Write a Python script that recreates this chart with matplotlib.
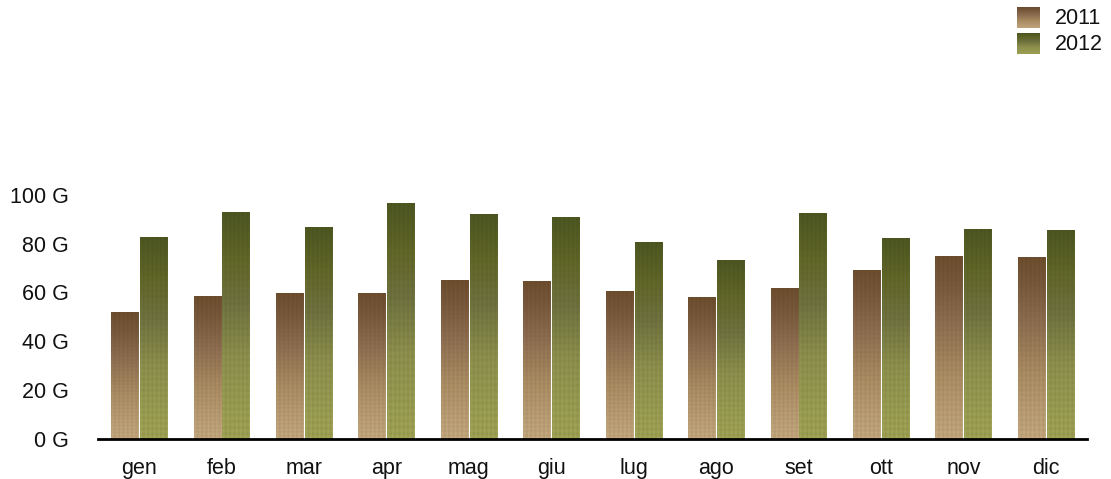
import numpy as np
import matplotlib
matplotlib.use("Agg")
import matplotlib.pyplot as plt
from matplotlib.colors import LinearSegmentedColormap

plt.rcParams['font.family'] = ['Liberation Sans', 'DejaVu Sans']

months = ["gen", "feb", "mar", "apr", "mag", "giu", "lug", "ago", "set", "ott", "nov", "dic"]
series_names = ["2011", "2012"]
values_2011 = [52.0, 58.5, 59.7, 59.7, 65.0, 64.6, 60.5, 58.1, 61.8, 69.2, 74.9, 74.5]
values_2012 = [82.7, 93.0, 86.8, 96.7, 92.1, 90.9, 80.7, 73.3, 92.6, 82.3, 86.0, 85.6]
y_ticks = [0, 20, 40, 60, 80, 100]
y_tick_labels = ["0 G", "20 G", "40 G", "60 G", "80 G", "100 G"]

# vertical gradients, bottom -> top
cmap_2011 = LinearSegmentedColormap.from_list(
    "brown", [(0.0, "#bfa47b"), (0.35, "#a88a61"), (0.62, "#8c6d4f"),
              (0.85, "#76573a"), (1.0, "#6b4c2d")])
cmap_2012 = LinearSegmentedColormap.from_list(
    "olive", [(0.0, "#9c9f52"), (0.35, "#8b8e4b"), (0.6, "#6d703d"),
              (0.8, "#5f6427"), (1.0, "#4b5520")])

W, H = 1111, 479
fig = plt.figure(figsize=(W / 100, H / 100), dpi=100)
ax = fig.add_axes([98 / W, 1 - 438.7 / H, (1087 - 98) / W, (438.7 - 195) / H])

bar_w = 0.33
offset = 0.175
x = np.arange(len(months))
grad = np.linspace(1, 0, 256).reshape(-1, 1)


def gradient_bar(xc, h, cmap):
    rgb = cmap(grad)[:, :, :3]
    rgb = np.repeat(rgb, 24, axis=1)
    cols = np.arange(24)
    rows = np.arange(256).reshape(-1, 1)
    # faint woven texture, stronger toward the bottom of the bar
    weave = 0.025 * np.sin(cols * 1.7) * (0.4 + 0.6 * (1 - grad)) \
        + 0.015 * np.sin(rows * 0.9) * (1 - grad)
    rgb = np.clip(rgb + weave[:, :, None], 0, 1)
    ax.imshow(rgb, extent=[xc - bar_w / 2, xc + bar_w / 2, 0, h],
              aspect='auto', interpolation='bilinear', zorder=2)


for i in range(len(months)):
    gradient_bar(x[i] - offset, values_2011[i], cmap_2011)
    gradient_bar(x[i] + offset, values_2012[i], cmap_2012)

ax.set_xlim(-0.5, len(months) - 0.5)
ax.set_ylim(0, 100)
ax.set_xticks(x)
ax.set_xticklabels(months)
ax.set_yticks(y_ticks)
ax.set_yticklabels(y_tick_labels)
ax.tick_params(axis='both', length=0, labelsize=15.5, colors='#111111')
ax.tick_params(axis='y', pad=21)
ax.tick_params(axis='x', pad=14)
for s in ['top', 'right', 'left']:
    ax.spines[s].set_visible(False)
ax.spines['bottom'].set_linewidth(2)
ax.spines['bottom'].set_color('black')
ax.spines['bottom'].set_zorder(3)

# legend swatches with the same gradients
for k, (name, cmap) in enumerate(zip(series_names, [cmap_2011, cmap_2012])):
    top = 7 + k * 26
    sax = fig.add_axes([1017 / W, 1 - (top + 21) / H, 23 / W, 21 / H])
    sax.imshow(cmap(grad)[:, :, :3], aspect='auto')
    sax.axis('off')
    fig.text(1055 / W, 1 - (top + 11) / H, name, fontsize=15.5,
             va='center', ha='left', color='#111111')

fig.savefig("out.png", dpi=100)
